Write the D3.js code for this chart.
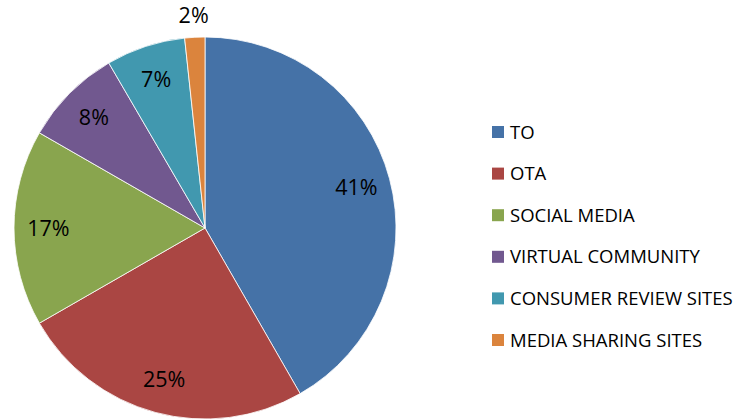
<!DOCTYPE html>
<html>
<head>
<meta charset="utf-8">
<script src="https://cdn.jsdelivr.net/npm/d3@7"></script>
<style>
  body { margin: 0; background: #fff; }
  svg text { font-family: "Open Sans", "Noto Sans", sans-serif; fill: #000; }
</style>
</head>
<body>
<div id="chart"></div>
<script>
var categories = ["TO", "OTA", "SOCIAL MEDIA", "VIRTUAL COMMUNITY", "CONSUMER REVIEW SITES", "MEDIA SHARING SITES"];
var values = [41.7, 25.0, 16.6, 8.3, 6.7, 1.7];
var labels = ["41%", "25%", "17%", "8%", "7%", "2%"];
var colors = ["#4572A7", "#AA4643", "#89A54E", "#71588F", "#4198AF", "#DB843D"];

var width = 737, height = 420;
var cx = 205, cy = 228, radius = 191;

var svg = d3.select("#chart").append("svg")
    .attr("width", width)
    .attr("height", height);

var g = svg.append("g")
    .attr("transform", "translate(" + cx + "," + cy + ")");

var data = categories.map(function(c, i) {
  return {name: c, value: values[i], label: labels[i], color: colors[i]};
});

var pie = d3.pie()
    .sort(null)
    .value(function(d) { return d.value; });

var arc = d3.arc().innerRadius(0).outerRadius(radius);
var labelArc = d3.arc().innerRadius(radius * 0.82).outerRadius(radius * 0.82);
var outerArc = d3.arc().innerRadius(radius + 22).outerRadius(radius + 22);

var slices = pie(data);

g.selectAll("path")
    .data(slices)
  .enter().append("path")
    .attr("d", arc)
    .attr("fill", function(d) { return d.data.color; })
    .attr("stroke", "#fff")
    .attr("stroke-width", 0.8);

g.selectAll("text.lbl")
    .data(slices)
  .enter().append("text")
    .attr("class", "lbl")
    .attr("transform", function(d) {
      // tiny slice gets its label outside, like Excel best fit
      var p = (d.endAngle - d.startAngle) < 0.2 ? outerArc.centroid(d) : labelArc.centroid(d);
      return "translate(" + p + ")";
    })
    .attr("text-anchor", "middle")
    .attr("dy", "0.36em")
    .style("font-size", "21.5px")
    .text(function(d) { return d.data.label; });

// legend
var legend = svg.append("g")
    .attr("transform", "translate(492,132)");

var item = legend.selectAll("g")
    .data(data)
  .enter().append("g")
    .attr("transform", function(d, i) { return "translate(0," + (i * 41.6) + ")"; });

item.append("rect")
    .attr("x", 0)
    .attr("y", -6)
    .attr("width", 12)
    .attr("height", 12)
    .attr("fill", function(d) { return d.color; });

item.append("text")
    .attr("x", 18)
    .attr("dy", "0.36em")
    .style("font-size", "18.5px")
    .text(function(d) { return d.name; });
</script>
</body>
</html>
